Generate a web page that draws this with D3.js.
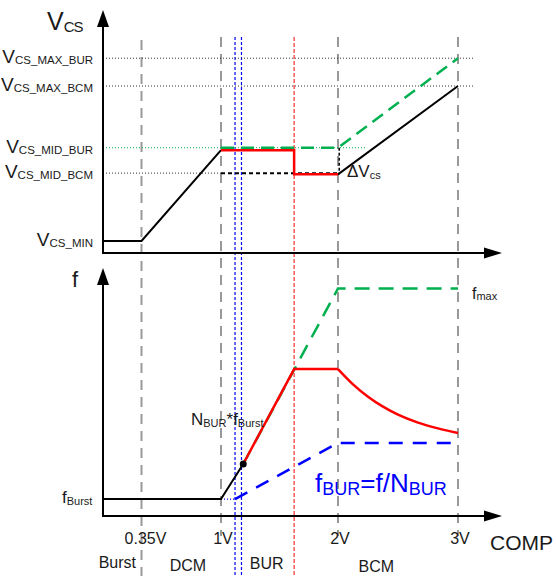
<!DOCTYPE html>
<html>
<head>
<meta charset="utf-8">
<script src="https://cdn.jsdelivr.net/npm/d3@7/dist/d3.min.js"></script>
<style>
  body { margin: 0; background: #fff; }
  svg text { font-family: "Liberation Sans", Arial, sans-serif; fill: #1a1a1a; }
</style>
</head>
<body>
<div id="chart"></div>
<script>
// COMP voltage ticks
var compTicks = [0.35, 1, 2, 3];
var compTickLabels = ["0.35V", "1V", "2V", "3V"];
var blueBounds = [1.12, 1.175];   // BUR window
var redBound = [1.625];            // BUR -> BCM
var regionNames = ["Burst", "DCM", "BUR", "BCM"];
var regionPos = [0.13, 0.73, 1.39, 2.32];

// Vcs levels (arbitrary units)
var vcsLevelNames = ["CS_MAX_BUR", "CS_MAX_BCM", "CS_MID_BUR", "CS_MID_BCM", "CS_MIN"];
var vcsLevels = [8.05, 6.9, 4.35, 3.3, 0.5];

// Vcs curves: [COMP, Vcs]
var vcsBlackLow = [[0, 0.5], [0.35, 0.5], [1, 4.25]];
var vcsRed = [[1, 4.25], [1.625, 4.25], [1.625, 3.25], [2, 3.25]];
var vcsBlackHigh = [[2, 3.25], [3, 6.9]];
var vcsGreen = [[1, 4.35], [2, 4.35], [3, 8.05]];
var vcsBlackDotted = [[1, 3.3], [2, 3.3]];
var vcsDelta = [[2.01, 4.35], [2.01, 3.25]];

// f curves: [COMP, f]
var fBurst = 0.7;
var fBlack = [[0, 0.7], [1, 0.7], [1.19, 2.15]];
var fRed = [[1.19, 2.15], [1.625, 6.07], [2, 6.07]];
var fRedDecay = [[2, 6.07], [2.125, 5.44], [2.25, 4.93], [2.375, 4.52], [2.5, 4.19],
                 [2.667, 3.86], [2.833, 3.62], [3, 3.43]];
var fGreen = [[1.19, 2.15], [2, 9.4], [3, 9.4]];
var fBlue = [[1.12, 0.7], [2, 3.02], [3, 3.02]];
var fBlueDotted = [[1, 0.7], [1.12, 0.7]];

function init() {
    var w = 556, h = 576;

    var x = d3.scaleLinear()
        .domain([0, 0.35, 1, 2, 3])
        .range([103, 141.5, 221, 338, 458]);
    var yTop = d3.scaleLinear().domain([0, 10]).range([253, 11]);
    var yBot = d3.scaleLinear().domain([0, 10]).range([516, 274]);

    var svg = d3.select("#chart").append("svg")
        .attr("width", w).attr("height", h);

    var lineTop = d3.line().x(function(d) { return x(d[0]); }).y(function(d) { return yTop(d[1]); });
    var lineBot = d3.line().x(function(d) { return x(d[0]); }).y(function(d) { return yBot(d[1]); });

    function path(data, gen, color, width, dash) {
        svg.append("path")
            .attr("d", gen(data))
            .attr("fill", "none")
            .attr("stroke", color)
            .attr("stroke-width", width)
            .attr("stroke-dasharray", dash || null)
            .attr("stroke-linejoin", "miter");
    }

    // vertical boundaries
    compTicks.forEach(function(t, i) {
        svg.append("line")
            .attr("x1", x(t)).attr("x2", x(t))
            .attr("y1", t === 0.35 ? 40 : 37)
            .attr("y2", t === 0.35 ? 576 : 536)
            .attr("stroke", "#999").attr("stroke-width", 2)
            .attr("stroke-dasharray", "10,7");
    });
    blueBounds.forEach(function(t) {
        svg.append("line")
            .attr("x1", x(t)).attr("x2", x(t)).attr("y1", 37).attr("y2", 576)
            .attr("stroke", "#0000ff").attr("stroke-width", 1.2)
            .attr("stroke-dasharray", "3,2");
    });
    redBound.forEach(function(t) {
        svg.append("line")
            .attr("x1", x(t)).attr("x2", x(t)).attr("y1", 37).attr("y2", 576)
            .attr("stroke", "#ff3030").attr("stroke-width", 1.2)
            .attr("stroke-dasharray", "4,2");
    });

    // reference dotted lines in the Vcs chart
    var refEnd = [473, 473, 365, 221, 141.5];
    var refColor = ["#333", "#333", "#00b050", "#333", "#333"];
    vcsLevels.forEach(function(v, i) {
        if (i === 4) return;
        svg.append("line")
            .attr("x1", 103).attr("x2", refEnd[i])
            .attr("y1", yTop(v)).attr("y2", yTop(v))
            .attr("stroke", refColor[i]).attr("stroke-width", 1)
            .attr("stroke-dasharray", "1,2");
    });

    // level labels
    vcsLevels.forEach(function(v, i) {
        var t = svg.append("text")
            .attr("x", 93).attr("y", yTop(v) + 5)
            .attr("text-anchor", "end")
            .attr("font-size", "19px");
        t.append("tspan").text("V");
        t.append("tspan").attr("font-size", "11.5px").attr("dy", 1).text(vcsLevelNames[i]);
    });

    // Vcs curves
    path(vcsBlackDotted, lineTop, "#000", 2, "4,3");
    path(vcsDelta, lineTop, "#000", 1.5, "3,2");
    path(vcsBlackLow, lineTop, "#000", 2);
    path(vcsBlackHigh, lineTop, "#000", 2);
    path(vcsRed, lineTop, "#ff0000", 2.5);
    path(vcsGreen, lineTop, "#00b050", 2.5, "13,7");

    // f curves
    path(fBlueDotted, lineBot, "#0000ff", 1.2, "1,2");
    path(fBlue, lineBot, "#0000ff", 2.5, "14,10");
    path(fGreen, lineBot, "#00b050", 2.5, "15,9");
    path(fBlack, lineBot, "#000", 2);
    path(fRed, lineBot, "#ff0000", 2.5);
    svg.append("path")
        .attr("d", d3.line().curve(d3.curveMonotoneX)
            .x(function(d) { return x(d[0]); })
            .y(function(d) { return yBot(d[1]); })(fRedDecay))
        .attr("fill", "none").attr("stroke", "#ff0000").attr("stroke-width", 2.5);
    svg.append("circle")
        .attr("cx", x(fRed[0][0])).attr("cy", yBot(fRed[0][1]))
        .attr("r", 3.5).attr("fill", "#000");

    // axes with arrows
    function axisH(y) {
        svg.append("line").attr("x1", 103).attr("x2", 488).attr("y1", y).attr("y2", y)
            .attr("stroke", "#000").attr("stroke-width", 2);
        svg.append("path").attr("d", "M484," + (y - 5.5) + "L502," + y + "L484," + (y + 5.5) + "Z")
            .attr("fill", "#000");
    }
    function axisV(y0, tip) {
        svg.append("line").attr("x1", 103).attr("x2", 103).attr("y1", y0 + 1).attr("y2", tip + 14)
            .attr("stroke", "#000").attr("stroke-width", 2);
        svg.append("path").attr("d", "M97," + (tip + 17) + "L103," + tip + "L109," + (tip + 17) + "Z")
            .attr("fill", "#000");
    }
    axisH(yTop(0));
    axisV(yTop(0), 10);
    axisH(yBot(0));
    axisV(yBot(0), 268);

    // titles
    var vt = svg.append("text").attr("x", 47).attr("y", 30).attr("font-size", "25px");
    vt.append("tspan").text("V");
    vt.append("tspan").attr("font-size", "15px").attr("dy", 2).attr("letter-spacing", "-1px").text("CS");

    svg.append("text").attr("x", 72).attr("y", 287).attr("font-size", "22px").text("f");

    var fb = svg.append("text").attr("x", 62).attr("y", yBot(fBurst) + 4).attr("font-size", "17px");
    fb.append("tspan").text("f");
    fb.append("tspan").attr("font-size", "11px").attr("dy", 2).text("Burst");

    var fm = svg.append("text").attr("x", 472).attr("y", 299).attr("font-size", "16px");
    fm.append("tspan").text("f");
    fm.append("tspan").attr("font-size", "11px").attr("dy", 1).text("max");

    var nb = svg.append("text").attr("x", 191).attr("y", 425).attr("font-size", "17px");
    nb.append("tspan").text("N");
    nb.append("tspan").attr("font-size", "11px").attr("dy", 2).text("BUR");
    nb.append("tspan").attr("dy", -2).text("*f");
    nb.append("tspan").attr("font-size", "11px").attr("dy", 2).text("Burst");

    var dv = svg.append("text").attr("x", 347).attr("y", 177).attr("font-size", "17px");
    dv.append("tspan").text("\u0394V");
    dv.append("tspan").attr("font-size", "11px").attr("dy", 2).text("cs");

    var fbur = svg.append("text").attr("x", 315).attr("y", 492).attr("font-size", "26px")
        .style("fill", "#0000ff");
    fbur.append("tspan").text("f");
    fbur.append("tspan").attr("font-size", "18px").attr("dy", 3).text("BUR");
    fbur.append("tspan").attr("dy", -3).text("=f/N");
    fbur.append("tspan").attr("font-size", "18px").attr("dy", 3).text("BUR");

    // tick labels
    compTicks.forEach(function(t, i) {
        svg.append("text")
            .attr("x", x(t) + (i === 0 ? 4 : 2)).attr("y", 544)
            .attr("text-anchor", "middle").attr("font-size", "16px")
            .text(compTickLabels[i]);
    });
    svg.append("text").attr("x", 490).attr("y", 550).attr("font-size", "21px").text("COMP");

    // operating regions
    var regionY = [568, 571, 569, 572];
    regionNames.forEach(function(r, i) {
        svg.append("text")
            .attr("x", x(regionPos[i])).attr("y", regionY[i])
            .attr("text-anchor", "middle").attr("font-size", "16px")
            .text(r);
    });
}
window.onload = init;
</script>
</body>
</html>
